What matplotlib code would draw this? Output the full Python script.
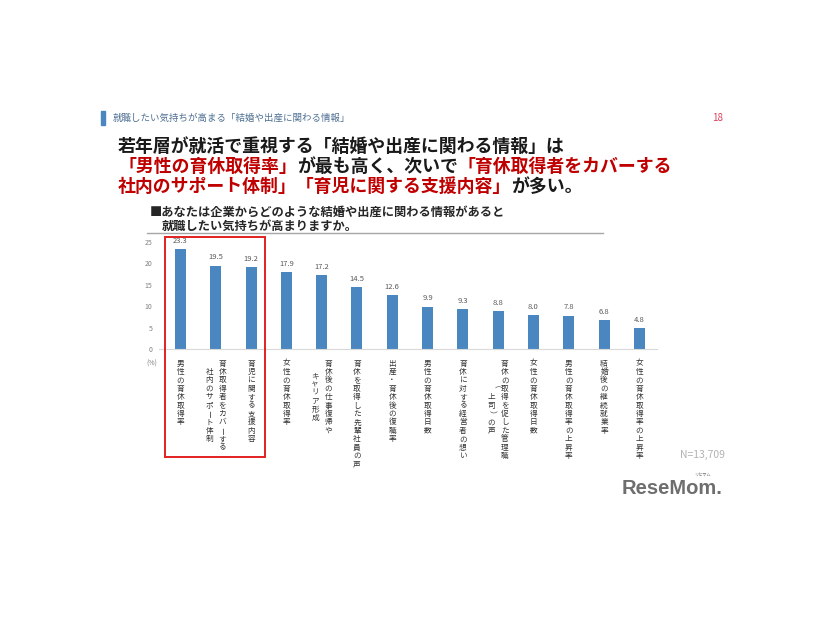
import numpy as np
import matplotlib.pyplot as plt
import matplotlib as mpl
from matplotlib.patches import Rectangle

mpl.rcParams['font.family'] = ['Noto Sans CJK JP', 'DejaVu Sans']

# data
categories = ["男性の育休取得率",
              "育休取得者をカバーする\n社内のサポート体制",
              "育児に関する支援内容",
              "女性の育休取得率",
              "育休後の仕事復帰や\nキャリア形成",
              "育休を取得した先輩社員の声",
              "出産・育休後の復職率",
              "男性の育休取得日数",
              "育休に対する経営者の想い",
              "育休の取得を促した管理職\n（上司）の声",
              "女性の育休取得日数",
              "男性の育休取得率の上昇率",
              "結婚後の継続就業率",
              "女性の育休取得率の上昇率"]
values = [23.3, 19.5, 19.2, 17.9, 17.2, 14.5, 12.6, 9.9, 9.3, 8.8, 8.0, 7.8, 6.8, 4.8]
yticks = [0, 5, 10, 15, 20, 25]

W, H = 826, 620
def fx(x): return x / W
def fy(y): return 1 - y / H

fig = plt.figure(figsize=(8.26, 6.2), dpi=100)
ax = fig.add_axes([fx(159.3), fy(349), fx(657 - 159.3), (349 - 242) / H])

xs = np.arange(len(values))
ax.bar(xs, values, width=0.31, color='#4a87c1', zorder=2)
for x, v in zip(xs, values):
    ax.annotate(f"{v:.1f}", xy=(x, v), xytext=(0, 3), textcoords='offset points',
                ha='center', va='bottom', fontsize=5.5, color='#595959')

ax.set_xlim(-0.6, 13.5)
ax.set_ylim(0, 25)
ax.set_yticks(yticks)
ax.tick_params(axis='y', length=0, labelsize=5, labelcolor='#808080', pad=5)
ax.set_xticks([])
for s in ['top', 'right', 'left']:
    ax.spines[s].set_visible(False)
ax.spines['bottom'].set_color('#d9d9d9')
ax.spines['bottom'].set_linewidth(0.8)
ax.patch.set_visible(False)

# vertical (tategaki) category labels
rot_chars = "ー（）"
pitch = 6.05
for x, lab in zip(xs, categories):
    cols = lab.split("\n")
    nmax = max(len(c) for c in cols)
    ncol = len(cols)
    for ci, col in enumerate(cols):
        dx = (ncol - 1) / 2 * 9.5 - ci * 9.5
        start = (nmax - len(col)) / 2
        for k, ch in enumerate(col):
            dy = -10.5 - (start + k) * pitch
            ax.annotate(ch, xy=(x, 0), xytext=(dx, dy), textcoords='offset points',
                        ha='center', va='center', fontsize=5.5, color='#333333',
                        rotation=-90 if ch in rot_chars else 0,
                        annotation_clip=False)

fig.text(fx(152), fy(364), "(%)", ha='center', va='center', fontsize=5, color='#808080')

# red highlight box
fig.add_artist(Rectangle((fx(165), fy(457)), fx(265 - 165), (457 - 237) / H,
                         fill=False, edgecolor='#e02020', lw=1.4, transform=fig.transFigure))

# header
fig.add_artist(Rectangle((fx(101), fy(125)), fx(4), 14 / H, color='#4a87c1',
                         transform=fig.transFigure))
fig.text(fx(113), fy(118), "就職したい気持ちが高まる「結婚や出産に関わる情報」",
         ha='left', va='center', fontsize=6.8, color='#4f6f92')
fig.text(fx(723), fy(118), "18", ha='right', va='center', fontsize=7, color='#e0405a')

# title with mixed colours
red, black = '#c00000', '#1a1a1a'
title_lines = [
    [("若年層が就活で重視する「結婚や出産に関わる情報」は", black)],
    [("「男性の育休取得率」", red), ("が最も高く、次いで", black), ("「育休取得者をカバーする", red)],
    [("社内のサポート体制」「育児に関する支援内容」", red), ("が多い。", black)],
]
for i, line in enumerate(title_lines):
    prev = None
    for txt, c in line:
        if prev is None:
            prev = fig.text(fx(118), fy(147 + i * 20), txt, ha='left', va='center',
                            fontsize=12.9, fontweight='bold', color=c)
        else:
            prev = ax.annotate(txt, xy=(1, 0), xycoords=prev, ha='left', va='bottom',
                               fontsize=12.9, fontweight='bold', color=c)

# question
fig.text(fx(150), fy(212), "■あなたは企業からどのような結婚や出産に関わる情報があると",
         ha='left', va='center', fontsize=8.8, fontweight='bold', color='#262626')
fig.text(fx(162), fy(226), "就職したい気持ちが高まりますか。",
         ha='left', va='center', fontsize=8.8, fontweight='bold', color='#262626')
fig.add_artist(plt.Line2D([fx(147), fx(603)], [fy(233), fy(233)], color='#a6a6a6',
                          lw=1, transform=fig.transFigure))

fig.text(fx(725), fy(455), "N=13,709", ha='right', va='center', fontsize=7.5, color='#b3b3b3')
fig.text(fx(622), fy(489), "ReseMom.", ha='left', va='center', fontsize=14.5,
         fontweight='bold', color='#6e6e6e', family='Liberation Sans')
fig.text(fx(702), fy(475), "リセマム", ha='center', va='center', fontsize=3, color='#6e6e6e')

fig.savefig("out.png", dpi=100)
